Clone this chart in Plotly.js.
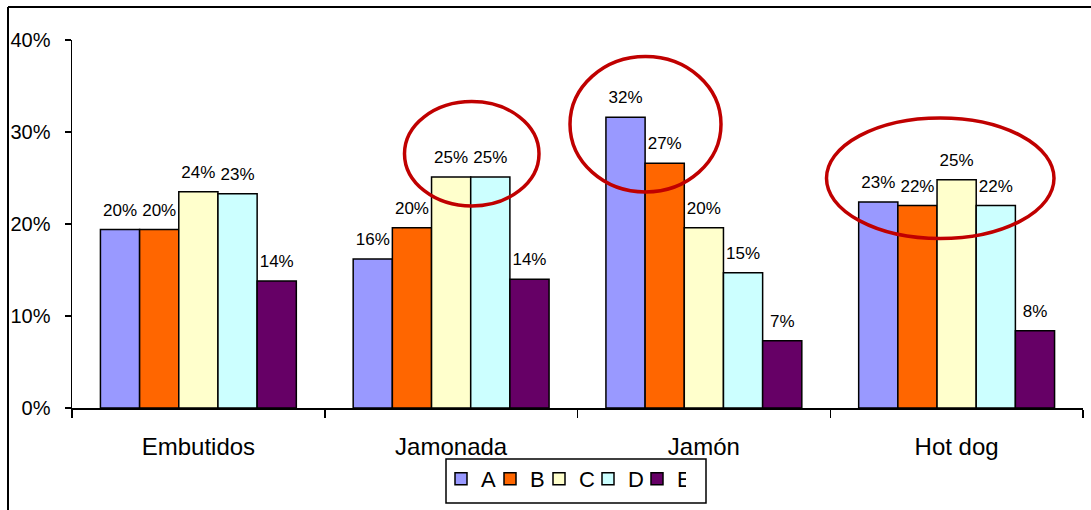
<!DOCTYPE html>
<html>
<head>
<meta charset="utf-8">
<script src="https://cdn.plot.ly/plotly-3.0.1.min.js"></script>
<style>html,body{margin:0;padding:0;background:#fff;}#chart{width:1091px;height:510px;}</style>
</head>
<body>
<div id="chart"></div>
<script>
var categories = ['Embutidos', 'Jamonada', 'Jamón', 'Hot dog'];
var seriesNames = ['A', 'B', 'C', 'D', 'E'];
var valuesA = [0.194, 0.162, 0.316, 0.224];
var valuesB = [0.194, 0.196, 0.266, 0.220];
var valuesC = [0.235, 0.251, 0.196, 0.248];
var valuesD = [0.233, 0.251, 0.147, 0.220];
var valuesE = [0.138, 0.140, 0.073, 0.084];
var labelsA = ['20%', '16%', '32%', '23%'];
var labelsB = ['20%', '20%', '27%', '22%'];
var labelsC = ['24%', '25%', '20%', '25%'];
var labelsD = ['23%', '25%', '15%', '22%'];
var labelsE = ['14%', '14%', '7%', '8%'];
var colors = ['#9999FF', '#FF6600', '#FFFFCC', '#CCFFFF', '#660066'];
var yTickVals = [0, 0.1, 0.2, 0.3, 0.4];
var yTickText = ['0%', '10%', '20%', '30%', '40%'];

var allValues = [valuesA, valuesB, valuesC, valuesD, valuesE];
var allLabels = [labelsA, labelsB, labelsC, labelsD, labelsE];
var GAP = 0.225;

var traces = seriesNames.map(function (name, i) {
  return {
    type: 'bar',
    name: name,
    x: categories,
    y: allValues[i],
    marker: {color: colors[i], line: {color: '#000', width: 1.5}},
    hoverinfo: 'none'
  };
});
var labelTraces = seriesNames.map(function (name, i) {
  return {
    type: 'scatter',
    mode: 'markers+text',
    name: name + ' labels',
    showlegend: false,
    x: categories,
    y: allValues[i],
    text: allLabels[i],
    textposition: 'top center',
    cliponaxis: false,
    marker: {size: 14, opacity: 0, color: colors[i]},
    textfont: {family: 'Liberation Sans, Arial, sans-serif', size: 17, color: '#000'},
    hoverinfo: 'none'
  };
});

var W = 1011, H = 368, L = 72, B0 = 408;
function px(x) { return (x - L) / W; }
function py(y) { return (B0 - y) / H; }

var layout = {
  width: 1091,
  height: 510,
  margin: {l: 72, r: 8, t: 40, b: 102},
  paper_bgcolor: '#fff',
  plot_bgcolor: '#fff',
  barmode: 'group',
  bargap: GAP,
  bargroupgap: 0,
  scattermode: 'group',
  scattergap: GAP,
  font: {family: 'Liberation Sans, Arial, sans-serif', color: '#000'},
  showlegend: true,
  legend: {
    orientation: 'h',
    x: px(441), xanchor: 'left',
    y: py(458), yanchor: 'top',
    bgcolor: 'rgba(0,0,0,0)',
    borderwidth: 0,
    font: {size: 22, color: '#000'},
    traceorder: 'normal',
    entrywidth: 4, entrywidthmode: 'pixels'
  },
  xaxis: {
    type: 'category',
    showline: true, linecolor: '#000', linewidth: 1.5,
    ticks: 'outside', ticklen: 8, tickwidth: 1.5, tickcolor: '#000',
    tickson: 'boundaries',
    showgrid: false, zeroline: false,
    tickfont: {size: 24, color: '#000'},
    ticklabelstandoff: 17,
    fixedrange: true
  },
  yaxis: {
    range: [0, 0.4],
    tickvals: yTickVals, ticktext: yTickText,
    showline: true, linecolor: '#000', linewidth: 1.5,
    ticks: 'outside', ticklen: 6, tickwidth: 1.5, tickcolor: '#000',
    showgrid: false, zeroline: false,
    tickfont: {size: 20, color: '#000'},
    ticklabelstandoff: 10,
    fixedrange: true
  },
  shapes: [
    {type: 'line', xref: 'paper', yref: 'paper', x0: px(8), x1: px(8), y0: py(7), y1: py(600), line: {color: '#000', width: 2}},
    {type: 'line', xref: 'paper', yref: 'paper', x0: px(8), x1: px(1200), y0: py(7), y1: py(7), line: {color: '#000', width: 2}},
    {type: 'rect', xref: 'paper', yref: 'paper', x0: px(446), x1: px(706), y0: py(459), y1: py(503), line: {color: '#000', width: 1.5}},
    {type: 'circle', xref: 'paper', yref: 'paper', x0: px(404.5), x1: px(539), y0: py(206), y1: py(101.5), line: {color: '#C00000', width: 3.5}},
    {type: 'circle', xref: 'paper', yref: 'paper', x0: px(570), x1: px(721), y0: py(192), y1: py(56.5), line: {color: '#C00000', width: 3.5}},
    {type: 'circle', xref: 'paper', yref: 'paper', x0: px(826.5), x1: px(1054), y0: py(238.5), y1: py(118), line: {color: '#C00000', width: 3.5}}
  ]
};

Plotly.newPlot('chart', traces.concat(labelTraces), layout, {displayModeBar: false, staticPlot: true});
</script>
</body>
</html>
